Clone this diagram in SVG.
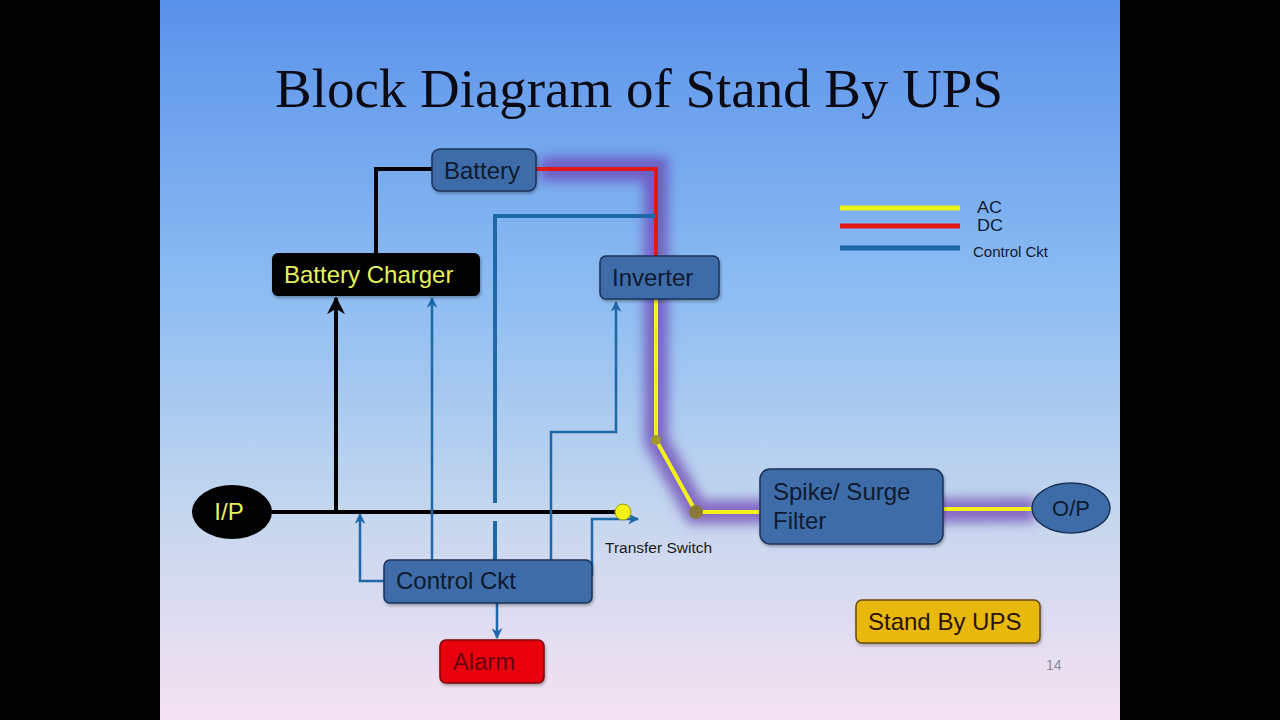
<svg xmlns="http://www.w3.org/2000/svg" width="1280" height="720" viewBox="0 0 1280 720">
<defs>
<linearGradient id="bg" x1="0" y1="0" x2="0" y2="1">
<stop offset="0" stop-color="#5a92ea"/>
<stop offset="0.4" stop-color="#8cbcf2"/>
<stop offset="0.7" stop-color="#c2d6ee"/>
<stop offset="1" stop-color="#f6e2f2"/>
</linearGradient>
<filter id="glow" x="-20%" y="-20%" width="140%" height="140%"><feGaussianBlur stdDeviation="6"/></filter>
<filter id="sh" x="-10%" y="-10%" width="130%" height="140%"><feDropShadow dx="1" dy="2" stdDeviation="1.5" flood-color="#000" flood-opacity="0.3"/></filter>
<marker id="ak" viewBox="0 0 10 10" refX="9" refY="5" markerWidth="26" markerHeight="18" orient="auto" markerUnits="userSpaceOnUse">
<path d="M0,0 L10,5 L0,10 L3,5 z" fill="#000"/>
</marker>
<marker id="ab2" viewBox="0 0 10 10" refX="9" refY="5" markerWidth="16" markerHeight="11" orient="auto" markerUnits="userSpaceOnUse">
<path d="M0,0 L10,5 L0,10 L3,5 z" fill="#1e68a8"/>
</marker>
</defs>
<style>
.box{fill:#3e6ca8;stroke:#1c3358;stroke-width:1.5}
.t{font-family:"Liberation Sans",Arial,sans-serif;font-size:24px;fill:#0f1a2e}
.blue{fill:none;stroke:#1e68a8;stroke-width:2.5}
.blk{fill:none;stroke:#000;stroke-width:4}
</style>
<rect width="1280" height="720" fill="#000"/>
<rect x="160" y="0" width="960" height="720" fill="url(#bg)"/>
<text x="639" y="107" text-anchor="middle" font-family="'Liberation Serif','Times New Roman',serif" font-size="55" fill="#0a0a14" textLength="728" lengthAdjust="spacingAndGlyphs">Block Diagram of Stand By UPS</text>

<g id="legend">
<line x1="840" y1="208" x2="960" y2="208" stroke="#f2f21a" stroke-width="5"/>
<line x1="840" y1="226" x2="960" y2="226" stroke="#e01818" stroke-width="5"/>
<line x1="840" y1="248" x2="960" y2="248" stroke="#1e68a8" stroke-width="5"/>
<text x="977" y="213" font-family="'Liberation Sans',Arial,sans-serif" font-size="16" fill="#0f1a2e" textLength="25" lengthAdjust="spacingAndGlyphs">AC</text>
<text x="977" y="231" font-family="'Liberation Sans',Arial,sans-serif" font-size="16" fill="#0f1a2e" textLength="26" lengthAdjust="spacingAndGlyphs">DC</text>
<text x="973" y="257" font-family="'Liberation Sans',Arial,sans-serif" font-size="15" fill="#0f1a2e">Control Ckt</text>
</g>

<g id="connectors">
<path d="M540,169 L656,169 L656,440 L696,512 L1035,510" fill="none" stroke="#6a3ab0" stroke-opacity="0.7" stroke-width="24" filter="url(#glow)"/>
<path class="blk" d="M432,169 L376,169 L376,253"/>
<path class="blk" d="M272,512 L622,512"/>
<path class="blk" d="M336,512 L336,298" marker-end="url(#ak)"/>
<path d="M536,169 L656,169 L656,256" fill="none" stroke="#e01818" stroke-width="4"/>
<path d="M656,299 L656,440 L696,512 L760,512" fill="none" stroke="#f2f21a" stroke-width="4"/>
<path d="M943,509 L1032,509" fill="none" stroke="#f2f21a" stroke-width="4"/>
<circle cx="656" cy="440" r="5" fill="#a09a30"/>
<circle cx="696" cy="512" r="7" fill="#8a7a3a"/>
<path d="M495,560 L495,521 M495,503 L495,216 L656,216" fill="none" stroke="#1e68a8" stroke-width="4"/>
<path class="blue" d="M432,560 L432,298" marker-end="url(#ab2)"/>
<path class="blue" d="M551,560 L551,432 L616,432 L616,302" marker-end="url(#ab2)"/>
<path class="blue" d="M384,581 L360,581 L360,514" marker-end="url(#ab2)"/>
<path class="blue" d="M592,576 L592,519 L638,519" marker-end="url(#ab2)"/>
<path class="blue" d="M497,603 L497,638" marker-end="url(#ab2)"/>
<circle cx="623" cy="512" r="8" fill="#f4f218" stroke="#9a9a20" stroke-width="1"/>
<text x="605" y="553" font-family="'Liberation Sans',Arial,sans-serif" font-size="15.5" fill="#1a1a1a">Transfer Switch</text>
</g>

<g id="battery"><rect class="box" x="432" y="149" width="104" height="42" rx="8" filter="url(#sh)"/><text class="t" x="482" y="179" text-anchor="middle">Battery</text></g>
<g id="charger"><rect x="272" y="253" width="208" height="43" rx="6" fill="#000" filter="url(#sh)"/><text class="t" x="284" y="283" style="fill:#e6f25c">Battery Charger</text></g>
<g id="inverter"><rect class="box" x="600" y="256" width="119" height="43" rx="6" filter="url(#sh)"/><text class="t" x="612" y="286">Inverter</text></g>
<g id="filter"><rect class="box" x="760" y="469" width="183" height="75" rx="10" filter="url(#sh)"/><text class="t" x="773" y="500">Spike/ Surge</text><text class="t" x="773" y="529">Filter</text></g>
<g id="op"><ellipse class="box" cx="1071" cy="508" rx="39" ry="25"/><text class="t" x="1071" y="516" text-anchor="middle" style="font-size:22px">O/P</text></g>
<g id="ip"><ellipse cx="232" cy="512" rx="40" ry="27" fill="#000"/><text class="t" x="229" y="520" text-anchor="middle" style="fill:#e6f25c">I/P</text></g>
<g id="control"><rect class="box" x="384" y="560" width="208" height="43" rx="6" filter="url(#sh)"/><text class="t" x="396" y="589">Control Ckt</text></g>
<g id="alarm"><rect x="440" y="640" width="104" height="43" rx="6" fill="#e8000a" stroke="#7a0008" stroke-width="1.5" filter="url(#sh)"/><text class="t" x="484" y="670" text-anchor="middle" style="fill:#6a0010">Alarm</text></g>
<g id="standby"><rect x="856" y="600" width="184" height="43" rx="6" fill="#e8b80c" stroke="#6b4a10" stroke-width="1.5" filter="url(#sh)"/><text class="t" x="868" y="630" style="fill:#2a1400">Stand By UPS</text></g>
<text x="1046" y="670" font-family="'Liberation Sans',Arial,sans-serif" font-size="14" fill="#8a8a9a">14</text>
</svg>
